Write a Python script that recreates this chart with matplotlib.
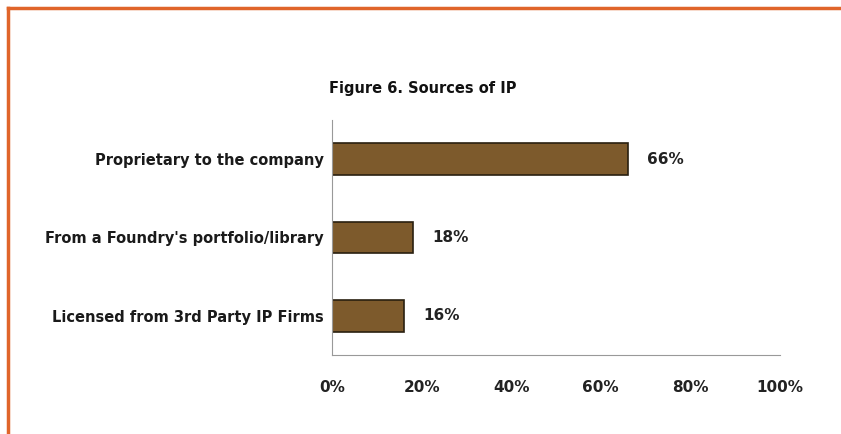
import matplotlib
matplotlib.use("Agg")
import matplotlib.pyplot as plt
from matplotlib.lines import Line2D

categories = ["Proprietary to the company", "From a Foundry's portfolio/library", "Licensed from 3rd Party IP Firms"]
values = [66, 18, 16]
xticks = [0, 20, 40, 60, 80, 100]
xticklabels = ["0%", "20%", "40%", "60%", "80%", "100%"]
title = "Figure 6. Sources of IP"

fig = plt.figure(figsize=(8.41, 4.34), dpi=100)
ax = fig.add_axes([332/841, 1-355/434, (780-332)/841, (355-120)/434])

ypos = list(range(len(categories)))
ax.barh(ypos, values, height=0.4, color="#7d5a2c", edgecolor="#2a2010", linewidth=1.2)
ax.set_ylim(2.5, -0.5)
ax.set_xlim(0, 100)
ax.set_yticks(ypos)
ax.set_yticklabels(categories, fontsize=10.5, fontweight="bold", color="#1a1a1a")
ax.set_xticks(xticks)
ax.set_xticklabels(xticklabels, fontsize=11, fontweight="bold", color="#222222")
ax.tick_params(axis="both", length=0)
ax.tick_params(axis="x", pad=18)
ax.tick_params(axis="y", pad=6)
for s in ["top", "right"]:
    ax.spines[s].set_visible(False)
for s in ["left", "bottom"]:
    ax.spines[s].set_color("#999999")
    ax.spines[s].set_linewidth(0.8)

for y, v in zip(ypos, values):
    ax.annotate(f"{v}%", (v, y), xytext=(14, 0), textcoords="offset points",
                va="center", ha="left", fontsize=11, fontweight="bold", color="#222222")

fig.text(423/841, 1-88/434, title, ha="center", va="center", fontsize=10.5, fontweight="bold", color="#111111")

# orange frame (top and left)
fig.add_artist(Line2D([8/841, 1], [1-8/434, 1-8/434], transform=fig.transFigure, color="#e0652a", linewidth=2.5))
fig.add_artist(Line2D([8/841, 8/841], [1-8/434, 0], transform=fig.transFigure, color="#e0652a", linewidth=2.5))

fig.savefig("out.png", dpi=100)
